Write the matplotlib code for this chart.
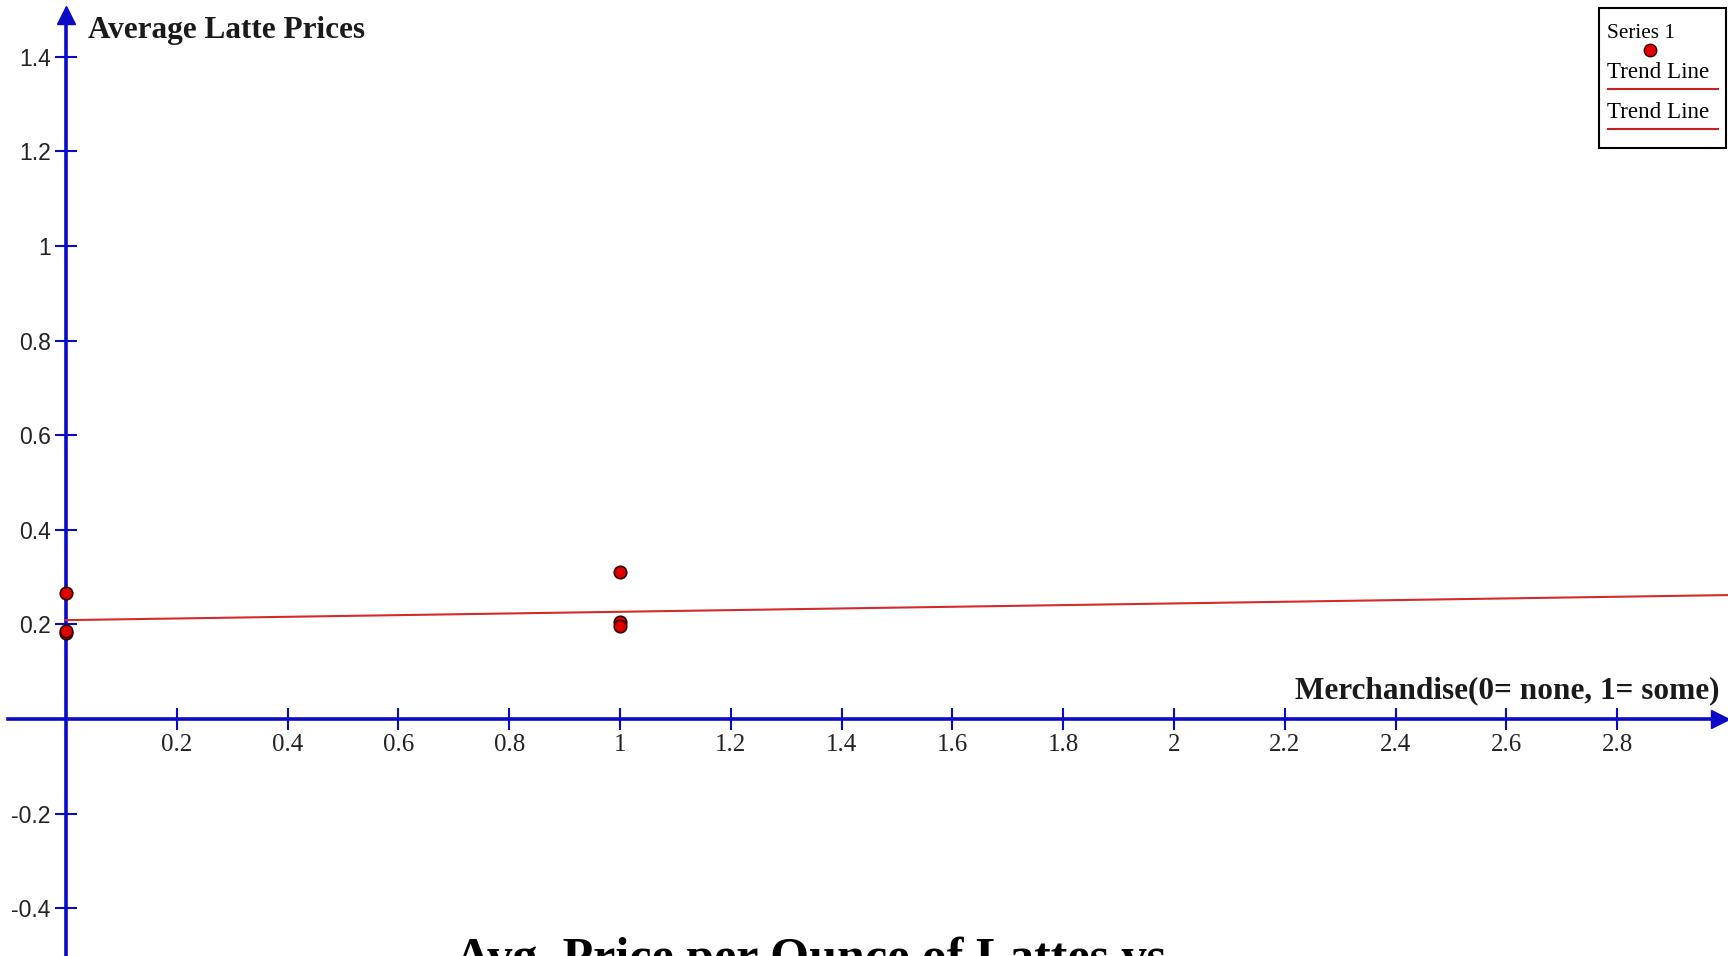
import matplotlib
matplotlib.use('Agg')
import matplotlib.pyplot as plt
from matplotlib.patches import Rectangle
from matplotlib.lines import Line2D

# data
merch = [0, 0, 0, 1, 1, 1]
latte_price = [0.266, 0.181, 0.186, 0.311, 0.205, 0.197]
trend_x = [0, 3.0]
trend_y = [0.209, 0.262]

x_ticks = [0.2, 0.4, 0.6, 0.8, 1, 1.2, 1.4, 1.6, 1.8, 2, 2.2, 2.4, 2.6, 2.8]
x_labels = ['0.2', '0.4', '0.6', '0.8', '1', '1.2', '1.4', '1.6', '1.8', '2',
            '2.2', '2.4', '2.6', '2.8']
y_ticks = [-0.4, -0.2, 0.2, 0.4, 0.6, 0.8, 1, 1.2, 1.4]
y_labels = ['-0.4', '-0.2', '0.2', '0.4', '0.6', '0.8', '1', '1.2', '1.4']

blue = '#0a0ac8'
serif = ['Liberation Serif', 'DejaVu Serif']
sans = ['Liberation Sans', 'DejaVu Sans']

fig = plt.figure(figsize=(17.28, 9.56), dpi=100)
ax = fig.add_axes([0, 0, 1, 1])
ax.set_xlim(-0.119, 3.0)
ax.set_ylim(-0.501, 1.52)

# axes through the origin
for s in ['top', 'right']:
    ax.spines[s].set_visible(False)
ax.spines['left'].set_position(('data', 0))
ax.spines['bottom'].set_position(('data', 0))
for s in ['left', 'bottom']:
    ax.spines[s].set_color(blue)
    ax.spines[s].set_linewidth(2.6)
ax.spines['left'].set_bounds(-0.501, 1.49)
ax.spines['bottom'].set_bounds(-0.105, 2.98)

# arrow heads
ax.plot(0, 1.488, marker='^', ms=13, color=blue, clip_on=False, zorder=5)
ax.plot(2.985, 0, marker='>', ms=13, color=blue, clip_on=False, zorder=5)

ax.set_xticks(x_ticks)
ax.set_xticklabels(x_labels, family=serif, fontsize=18)
ax.set_yticks(y_ticks)
ax.set_yticklabels(y_labels, family=sans, fontsize=16.5)
ax.tick_params(axis='both', direction='inout', length=16, width=1.5, colors=blue)
ax.tick_params(axis='x', pad=3, labelcolor='#222222')
ax.tick_params(axis='y', pad=3, labelcolor='#222222')

# trend line and points
ax.plot(trend_x, trend_y, color='#d42a2a', lw=1.5, zorder=3)
ax.plot(merch, latte_price, 'o', ms=9, markerfacecolor='#e00000',
        markeredgecolor='#300000', markeredgewidth=1.2, ls='none', zorder=4)

# axis titles
ax.text(0.040, 1.455, 'Average Latte Prices', family=serif, fontsize=22.5,
        fontweight='bold', color='#1a1a1a', va='center', ha='left')
ax.text(2.984, 0.060, 'Merchandise(0= none, 1= some)', family=serif, fontsize=22.5,
        fontweight='bold', color='#1a1a1a', va='center', ha='right')

# legend box
fig.patches.append(Rectangle((1599 / 1728, 1 - 148 / 956), 127 / 1728, 140 / 956,
                             transform=fig.transFigure, fill=False,
                             edgecolor='black', lw=1.5))
fig.text(1607 / 1728, 1 - 33 / 956, 'Series 1', family=serif, fontsize=15.3,
         va='center', ha='left')
fig.lines.append(Line2D([1650 / 1728], [1 - 50 / 956], marker='o', ms=9,
                        markerfacecolor='#e00000', markeredgecolor='#300000',
                        transform=fig.transFigure))
for ty, ly in [(73, 89), (112, 129)]:
    fig.text(1607 / 1728, 1 - ty / 956, 'Trend Line', family=serif, fontsize=16.6,
             va='center', ha='left')
    fig.lines.append(Line2D([1608 / 1728, 1718 / 1728], [1 - ly / 956] * 2,
                            color='#c82020', lw=1.5, transform=fig.transFigure))

# slide title (cut off at the bottom, as in the reference)
fig.text(817 / 1728, 1 - 937 / 956, 'Avg. Price per Ounce of Lattes vs.',
         family=serif, fontsize=36, fontweight='bold', va='top', ha='center')

fig.savefig('out.png', dpi=100)
